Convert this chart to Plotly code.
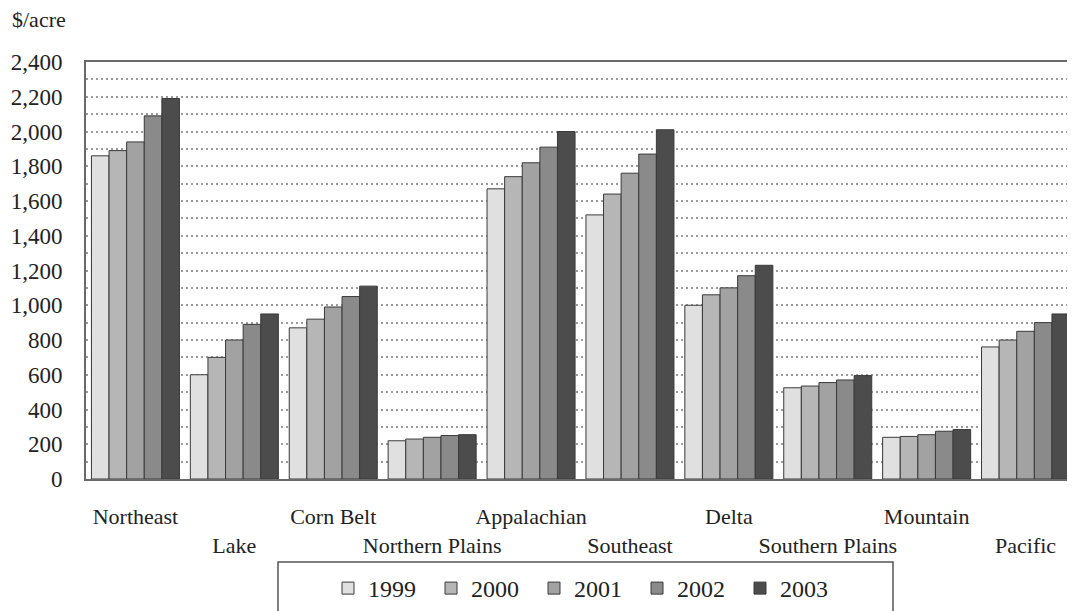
import plotly.graph_objects as go

regions = ["Northeast", "Lake", "Corn Belt", "Northern Plains", "Appalachian",
           "Southeast", "Delta", "Southern Plains", "Mountain", "Pacific"]
years = ["1999", "2000", "2001", "2002", "2003"]
v1999 = [1860, 600, 870, 220, 1670, 1520, 1000, 525, 240, 760]
v2000 = [1890, 700, 920, 230, 1740, 1640, 1060, 535, 245, 800]
v2001 = [1940, 800, 990, 240, 1820, 1760, 1100, 555, 255, 850]
v2002 = [2090, 890, 1050, 250, 1910, 1870, 1170, 570, 275, 900]
v2003 = [2190, 950, 1110, 255, 2000, 2010, 1230, 595, 285, 950]
series = [v1999, v2000, v2001, v2002, v2003]
colors = ["#e0e0e0", "#b6b6b6", "#a2a2a2", "#8a8a8a", "#4c4c4c"]
ytick_vals = list(range(0, 2401, 200))
ytick_text = [f"{v:,}" for v in ytick_vals]

OFF = 8  # page body margin
W, H = 1075 - OFF, 611 - OFF
L, T = 86 - OFF, 62 - OFF
B = H - (479 - OFF)
R = 0
pw, ph = W - L - R, H - T - B

def px_x(x):
    return (x - OFF - L) / pw

def px_y(y):
    return (H - B - (y - OFF)) / ph

FONT = "Liberation Serif"
TXT = "#222222"

fig = go.Figure()
xpos = list(range(len(regions)))
for yr, vals, c in zip(years, series, colors):
    fig.add_trace(go.Bar(
        x=xpos, y=vals, name=yr,
        marker=dict(color=c, line=dict(color="#3a3a3a", width=1)),
    ))

ticktext = [r if i % 2 == 0 else "<br>" + r for i, r in enumerate(regions)]

fig.update_layout(
    width=W, height=H,
    margin=dict(l=L, r=R, t=T, b=B, autoexpand=False),
    paper_bgcolor="white", plot_bgcolor="white",
    barmode="group", bargap=0.11, bargroupgap=0,
    font=dict(family=FONT, size=22, color=TXT),
    showlegend=True,
    legend=dict(orientation="h", x=px_x(328), xanchor="left",
                y=px_y(566), yanchor="top",
                font=dict(family=FONT, size=24, color=TXT),
                entrywidth=58, bgcolor="rgba(0,0,0,0)", borderwidth=0,
                traceorder="normal"),
    xaxis=dict(range=[-0.5, 9.5], tickvals=xpos, ticktext=ticktext,
               tickangle=0,
               showline=True, linecolor="#6a6a6a", linewidth=2, mirror=True,
               showgrid=False, ticks="", ticklabelstandoff=17,
               tickfont=dict(family=FONT, size=22, color=TXT)),
    yaxis=dict(range=[0, 2400], tickvals=ytick_vals, ticktext=ytick_text,
               showline=True, linecolor="#6a6a6a", linewidth=2,
               showgrid=True, gridcolor="#9a9a9a", gridwidth=1.5,
               griddash="2px,3px", ticks="", ticklabelstandoff=17,
               minor=dict(dtick=100, tick0=0, showgrid=True, gridcolor="#9a9a9a",
                          gridwidth=1.5, griddash="2px,3px"),
               zeroline=False,
               tickfont=dict(family=FONT, size=23, color=TXT)),
    shapes=[dict(type="rect", xref="paper", yref="paper",
                 x0=px_x(278), x1=px_x(893), y0=px_y(562), y1=px_y(640),
                 line=dict(color="#555555", width=1.5), fillcolor="rgba(0,0,0,0)")],
    annotations=[dict(text="$/acre", xref="paper", yref="paper",
                      x=px_x(10), y=px_y(20), xanchor="left", yanchor="middle",
                      showarrow=False, font=dict(family=FONT, size=22, color=TXT))],
)

fig.write_html("out.html")
